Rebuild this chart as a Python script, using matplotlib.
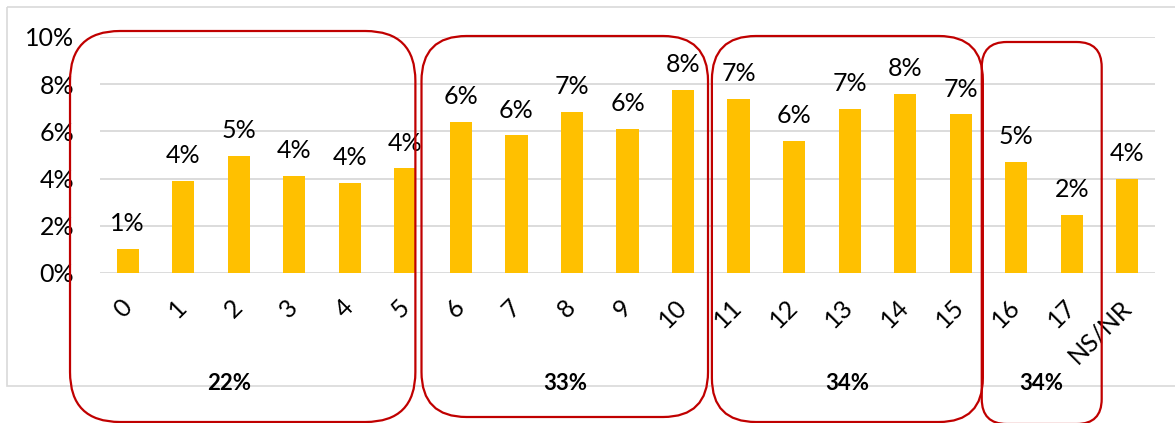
import numpy as np
import matplotlib
matplotlib.use("Agg")
import matplotlib.pyplot as plt
from matplotlib.patches import FancyBboxPatch, Rectangle

plt.rcParams['font.family'] = ['Lato', 'DejaVu Sans']

# ages and share of respondents (%)
categories = ['0', '1', '2', '3', '4', '5', '6', '7', '8', '9', '10',
              '11', '12', '13', '14', '15', '16', '17', 'NS/NR']
values = [1.02, 3.90, 4.96, 4.11, 3.81, 4.43, 6.41, 5.83, 6.82, 6.09, 7.74,
          7.36, 5.59, 6.95, 7.58, 6.72, 4.69, 2.47, 4.00]

# groups of ages with their total share
group_labels = ['22%', '33%', '34%', '34%']
group_left = [-1.04, 5.29, 10.52, 15.38]
group_right = [5.18, 10.45, 15.40, 17.54]
group_text_x = [1.82, 7.88, 12.95, 16.46]

W, H = 1175, 423
fig = plt.figure(figsize=(W / 100, H / 100), dpi=100)
ax = fig.add_axes([100 / W, 150 / H, 1055 / W, 236 / H])

x = np.arange(len(categories))
ax.bar(x, values, width=0.4, color='#FFC000', zorder=3)

for xi, v in zip(x, values):
    ax.annotate(f"{v:.0f}%", (xi, v), xytext=(0, 10), textcoords='offset points',
                ha='center', va='bottom', fontsize=18, color='black')

ax.set_xlim(-0.5, len(categories) - 0.5)
ax.set_ylim(0, 10)
ax.set_yticks(np.arange(0, 11, 2))
ax.set_yticklabels([f"{t}%" for t in range(0, 11, 2)], fontsize=18)
ax.set_xticks(x)
ax.set_xticklabels(categories, fontsize=18, rotation=45, ha='right', va='center',
                   rotation_mode='anchor')
ax.tick_params(axis='y', length=0, pad=18.5)
ax.tick_params(axis='x', length=0, pad=22)
ax.grid(axis='y', color='#D9D9D9', linewidth=1.3, zorder=0)
for s in ax.spines.values():
    s.set_visible(False)

# overlay in pixel units for the frame and group boxes
ov = fig.add_axes([0, 0, 1, 1], zorder=5)
ov.set_xlim(0, W)
ov.set_ylim(H, 0)
ov.axis('off')
ov.patch.set_alpha(0)
ov.add_patch(Rectangle((7, 7), W, 379, fill=False, edgecolor='#D9D9D9', linewidth=1.2))

tops = [31, 36, 36, 42]
bottoms = [422, 417, 422, 424]
radii = [50, 45, 44, 25]

def to_px(xd):
    return ax.transData.transform((xd, 0))[0]

for i, lab in enumerate(group_labels):
    x0 = to_px(group_left[i])
    x1 = to_px(group_right[i])
    box = FancyBboxPatch((x0, tops[i]), x1 - x0, bottoms[i] - tops[i],
                         boxstyle=f"round,pad=0,rounding_size={radii[i]}",
                         fill=False, edgecolor='#C00000', linewidth=1.6)
    ov.add_patch(box)
    ov.text(to_px(group_text_x[i]), 384, lab, ha='center', va='center',
            fontsize=16, fontweight='bold')

fig.savefig('out.png', dpi=100)
